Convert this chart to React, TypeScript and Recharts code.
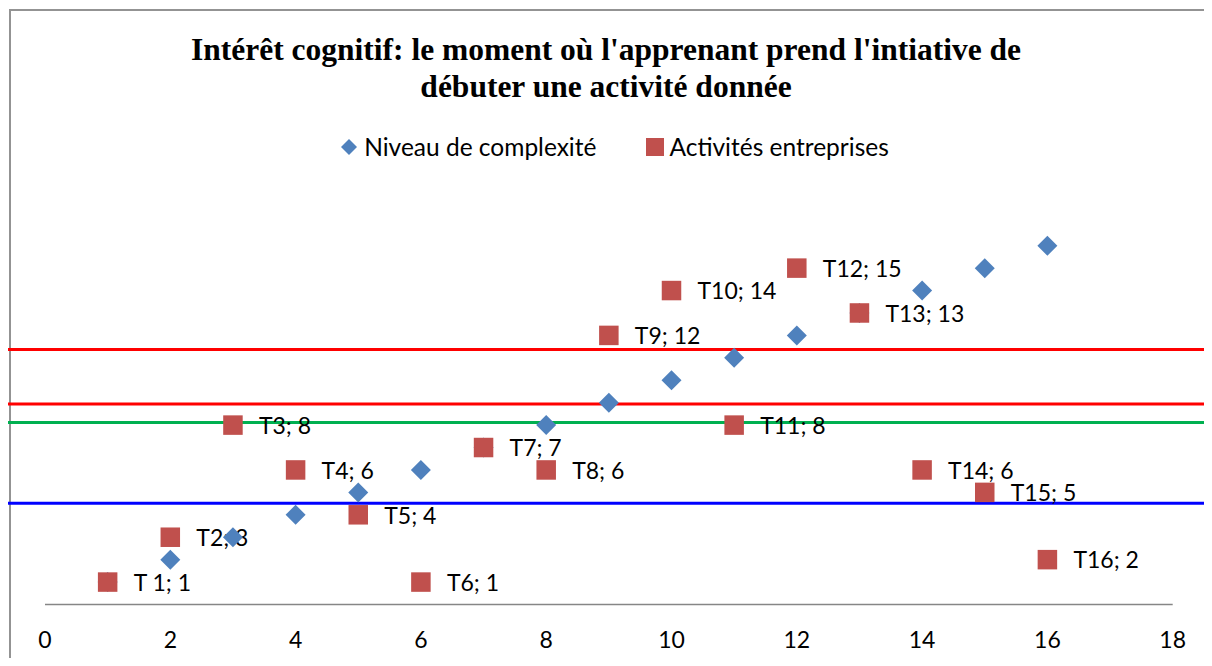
import { Legend, ReferenceLine, Scatter, ScatterChart, XAxis, YAxis } from "recharts"

const taskIds = ["T 1", "T2", "T3", "T4", "T5", "T6", "T7", "T8", "T9", "T10", "T11", "T12", "T13", "T14", "T15", "T16"]
const taskX = [1, 2, 3, 4, 5, 6, 7, 8, 9, 10, 11, 12, 13, 14, 15, 16]
const complexity = [1, 2, 3, 4, 5, 6, 7, 8, 9, 10, 11, 12, 13, 14, 15, 16]
const activities = [1, 3, 8, 6, 4, 1, 7, 6, 12, 14, 8, 15, 13, 6, 5, 2]
const xTicks = [0, 2, 4, 6, 8, 10, 12, 14, 16, 18]
const refLevels = [11.37, 8.94, 8.12, 4.51]

const BLUE = "#4F81BD"
const RED = "#C0504D"
const refColors = ["#FF0000", "#FF0000", "#00B050", "#0000FF"]
const SANS = "Lato, 'Open Sans', sans-serif"

const complexityData = taskX.map((x, i) => ({ x, y: complexity[i] }))
const activityData = taskX.map((x, i) => ({
  x,
  y: activities[i],
  label: `${taskIds[i]}; ${activities[i]}`,
}))

const Diamond = (p: any) => (
  <polygon
    points={`${p.cx},${p.cy - 10} ${p.cx + 10},${p.cy} ${p.cx},${p.cy + 10} ${p.cx - 10},${p.cy}`}
    fill={BLUE}
  />
)

const Square = (p: any) => (
  <rect x={p.cx - 9.75} y={p.cy - 9.75} width={19.5} height={19.5} fill={RED} />
)

// labels sit under the markers, like in the original
const TaskLabel = (p: any) => (
  <text x={p.cx + 26} y={p.cy} dy="0.38em" fontFamily={SANS} fontSize={23} fill="#000">
    {p.payload.label}
  </text>
)

function LegendContent() {
  return (
    <div
      style={{
        display: "flex",
        justifyContent: "center",
        alignItems: "center",
        fontFamily: SANS,
        fontSize: 24.5,
        color: "#000",
        paddingLeft: 10,
      }}
    >
      <span style={{ display: "flex", alignItems: "center", marginRight: 50 }}>
        <svg width={16} height={16}>
          <polygon points="8,0 16,8 8,16 0,8" fill={BLUE} />
        </svg>
        <span style={{ marginLeft: 7 }}>Niveau de complexité</span>
      </span>
      <span style={{ display: "flex", alignItems: "center" }}>
        <svg width={18} height={18}>
          <rect x={0} y={0} width={18} height={18} fill={RED} />
        </svg>
        <span style={{ marginLeft: 5 }}>Activités entreprises</span>
      </span>
    </div>
  )
}

export default function App() {
  return (
    <div style={{ position: "relative", width: 1204, height: 650, overflow: "hidden", background: "#fff" }}>
      <div
        style={{
          position: "absolute",
          left: 1,
          top: 1,
          width: 1400,
          height: 900,
          borderLeft: "2px solid #939393",
          borderTop: "2px solid #939393",
        }}
      />
      <ScatterChart width={1204} height={650} margin={{ top: 148, right: 39.3, bottom: 0, left: 37 }}>
        <XAxis
          type="number"
          dataKey="x"
          domain={[0, 18]}
          ticks={xTicks}
          interval={0}
          tickLine={false}
          tickSize={0}
          tickMargin={27.5}
          height={53.5}
          axisLine={{ stroke: "#868686", strokeWidth: 1.5 }}
          tick={{ fill: "#000", fontSize: 23, fontFamily: SANS }}
        />
        <YAxis type="number" dataKey="y" domain={[0, 20]} hide />
        {refLevels.map((v, i) => (
          <ReferenceLine
            key={i}
            segment={[
              { x: -0.6, y: v },
              { x: 18.8, y: v },
            ]}
            ifOverflow="visible"
            stroke={refColors[i]}
            strokeWidth={3}
          />
        ))}
        <Legend
          verticalAlign="middle"
          align="center"
          layout="horizontal"
          content={<LegendContent />}
          wrapperStyle={{ top: 124, left: 0, width: 1204 }}
        />
        <Scatter
          name="labels"
          data={activityData}
          shape={TaskLabel}
          legendType="none"
          isAnimationActive={false}
        />
        <Scatter name="Niveau de complexité" data={complexityData} shape={Diamond} isAnimationActive={false} />
        <Scatter name="Activités entreprises" data={activityData} shape={Square} isAnimationActive={false} />
      </ScatterChart>
      <div
        style={{
          position: "absolute",
          top: 24,
          left: -4,
          width: 1204,
          textAlign: "center",
          fontFamily: "'Liberation Serif', 'Times New Roman', serif",
          fontWeight: "bold",
          fontSize: 31.5,
          lineHeight: "36.7px",
          color: "#000",
        }}
      >
        <div>Intérêt cognitif: le moment où l'apprenant prend l'intiative de</div>
        <div>débuter une activité donnée</div>
      </div>
    </div>
  )
}
